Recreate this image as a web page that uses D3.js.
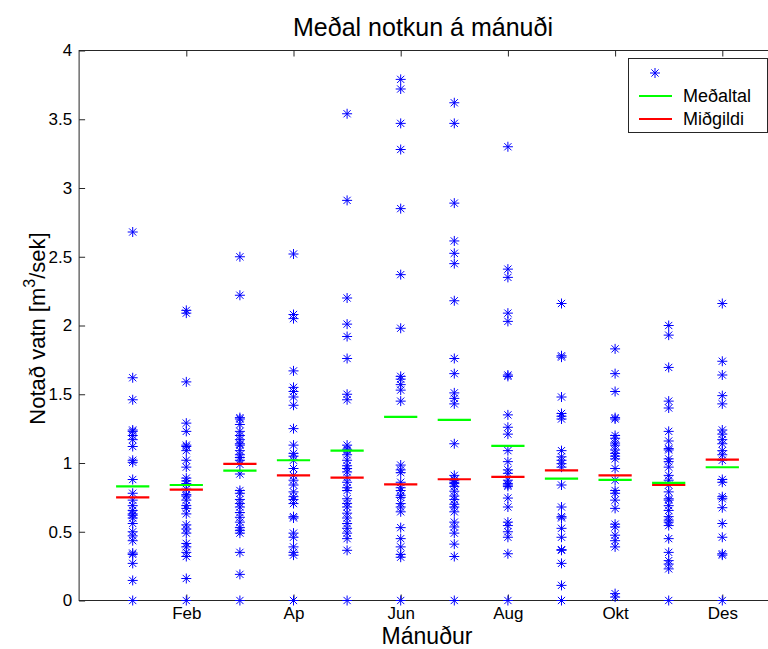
<!DOCTYPE html>
<html>
<head>
<meta charset="utf-8">
<script src="https://cdn.jsdelivr.net/npm/d3@7"></script>
<style>
  html, body { margin: 0; padding: 0; background: #fff; }
  svg { display: block; font-family: "Liberation Sans", Arial, Helvetica, sans-serif; }
</style>
</head>
<body>
<svg id="chart" width="768" height="649"></svg>
<script>
// ---------- DATA ----------
const monthNums = [1,2,3,4,5,6,7,8,9,10,11,12];
const tickMonths = [2,4,6,8,10,12];
const tickLabels = ["Feb","Ap","Jun","Aug","Okt","Des"];
const yTicks = [0,0.5,1,1.5,2,2.5,3,3.5,4];

const vJan = [2.68,1.62,1.46,1.24,1.23,1.20,1.17,1.12,1.02,1.005,0.88,0.78,0.73,0.69,0.655,0.63,0.62,0.60,0.56,0.50,0.47,0.435,0.345,0.335,0.27,0.146,0];
const vFeb = [2.11,2.09,1.59,1.29,1.23,1.13,1.12,1.09,1.02,0.97,0.89,0.87,0.85,0.81,0.77,0.76,0.73,0.69,0.67,0.63,0.55,0.52,0.49,0.415,0.39,0.35,0.32,0.16,0];
const vMar = [2.50,2.22,1.33,1.32,1.28,1.23,1.20,1.17,1.14,1.13,1.09,1.06,1.04,1.02,0.99,0.92,0.80,0.78,0.735,0.705,0.68,0.64,0.605,0.57,0.53,0.51,0.49,0.35,0.19,0];
const vApr = [2.52,2.08,2.05,1.67,1.55,1.52,1.48,1.42,1.25,1.13,1.07,1.05,1.02,0.96,0.91,0.875,0.84,0.79,0.755,0.735,0.705,0.61,0.60,0.49,0.46,0.39,0.35,0.33,0];
const vMay = [3.54,2.91,2.20,2.01,1.92,1.76,1.50,1.46,1.13,1.10,1.09,1.06,1.02,0.98,0.96,0.935,0.895,0.86,0.82,0.80,0.74,0.705,0.68,0.635,0.60,0.56,0.525,0.49,0.45,0.365,0];
const vJun = [3.79,3.72,3.47,3.28,2.85,2.37,1.98,1.63,1.61,1.57,1.53,1.45,0.985,0.95,0.93,0.86,0.82,0.80,0.765,0.75,0.705,0.68,0.645,0.53,0.45,0.39,0.335,0.315,0];
const vJul = [3.62,3.47,2.89,2.615,2.525,2.45,2.18,1.76,1.65,1.51,1.47,1.43,1.14,0.91,0.88,0.875,0.86,0.85,0.83,0.795,0.76,0.735,0.70,0.68,0.645,0.57,0.535,0.49,0.41,0.32,0];
const vAug = [3.30,2.41,2.35,2.09,2.03,1.64,1.63,1.35,1.26,1.21,1.09,1.01,0.95,0.925,0.875,0.85,0.84,0.83,0.745,0.68,0.57,0.545,0.50,0.46,0.34,0];
const vSep = [2.16,1.78,1.77,1.48,1.36,1.34,1.32,1.09,1.045,1.02,0.995,0.97,0.84,0.68,0.61,0.60,0.525,0.46,0.37,0.365,0.27,0.11,0];
const vOkt = [1.83,1.65,1.52,1.33,1.32,1.20,1.18,1.145,1.13,1.095,1.07,1.05,1.03,0.96,0.875,0.80,0.78,0.73,0.67,0.555,0.535,0.475,0.435,0.39,0.05,0.025];
const vNov = [2.0,1.93,1.695,1.45,1.40,1.23,1.16,1.105,1.095,1.03,1.01,0.97,0.91,0.875,0.84,0.79,0.74,0.73,0.69,0.655,0.61,0.585,0.57,0.545,0.45,0.35,0.29,0.265,0.23,0];
const vDes = [2.16,1.74,1.64,1.49,1.43,1.24,1.21,1.17,1.14,1.09,1.06,1.02,0.88,0.86,0.755,0.74,0.675,0.56,0.46,0.34,0.33,0];
const monthValues = [vJan,vFeb,vMar,vApr,vMay,vJun,vJul,vAug,vSep,vOkt,vNov,vDes];

const means   = [0.83,0.84,0.945,1.02,1.09,1.336,1.314,1.124,0.887,0.877,0.855,0.969];
const medians = [0.75,0.806,0.993,0.91,0.894,0.845,0.882,0.899,0.947,0.91,0.84,1.025];

const titleText = "Meðal notkun á mánuði";
const xLabelText = "Mánuður";
const legendLabels = ["", "Meðaltal", "Miðgildi"];

// ---------- LAYOUT ----------
const svg = d3.select("#chart");
const pLeft = 79.1, pRight = 775.9, pTop = 50.5, pBottom = 600.5;
const x = d3.scaleLinear().domain([0, 13]).range([pLeft, pRight]);
const y = d3.scaleLinear().domain([0, 4]).range([pBottom, pTop]);
const axisColor = "#262626";
const starPath = "M-5,0H5M0,-5V5M-3.6,-3.6L3.6,3.6M-3.6,3.6L3.6,-3.6";

// axes box
svg.append("rect").attr("x", pLeft).attr("y", pTop).attr("width", pRight - pLeft).attr("height", pBottom - pTop)
  .attr("fill", "none").attr("stroke", axisColor).attr("stroke-width", 1);

// axes via d3
const gx = svg.append("g").attr("transform", `translate(0,${pBottom})`)
  .call(d3.axisBottom(x).tickValues(tickMonths).tickFormat((d, i) => tickLabels[i]).tickSizeInner(-6).tickSizeOuter(0).tickPadding(6));
const gxt = svg.append("g").attr("transform", `translate(0,${pTop})`)
  .call(d3.axisTop(x).tickValues(tickMonths).tickFormat("").tickSizeInner(-6).tickSizeOuter(0));
const gy = svg.append("g").attr("transform", `translate(${pLeft},0)`)
  .call(d3.axisLeft(y).tickValues(yTicks).tickFormat(d3.format("")).tickSizeInner(-6).tickSizeOuter(0).tickPadding(7));
const gyr = svg.append("g").attr("transform", `translate(${pRight},0)`)
  .call(d3.axisRight(y).tickValues(yTicks).tickFormat("").tickSizeInner(-6).tickSizeOuter(0));
[gx, gxt, gy, gyr].forEach(g => {
  g.select(".domain").remove();
  g.selectAll(".tick line").attr("stroke", axisColor);
  g.selectAll("text").attr("fill", "#000").style("font-size", "17px").style("font-family", "'Liberation Sans', Arial, sans-serif");
});

// stars
const pts = [];
monthValues.forEach((arr, i) => arr.forEach(v => pts.push({m: monthNums[i], v})));
svg.append("g").selectAll("path").data(pts).join("path")
  .attr("transform", d => `translate(${x(d.m)},${y(d.v)})`)
  .attr("d", starPath).attr("fill", "none").attr("stroke", "#0000ff").attr("stroke-width", 1);

// mean / median lines
const hw = 0.31;
svg.append("g").selectAll("line").data(monthNums).join("line")
  .attr("x1", (d) => x(d - hw)).attr("x2", (d) => x(d + hw))
  .attr("y1", (d, i) => y(means[i])).attr("y2", (d, i) => y(means[i]))
  .attr("stroke", "#00ff00").attr("stroke-width", 2.2);
svg.append("g").selectAll("line").data(monthNums).join("line")
  .attr("x1", (d) => x(d - hw)).attr("x2", (d) => x(d + hw))
  .attr("y1", (d, i) => y(medians[i])).attr("y2", (d, i) => y(medians[i]))
  .attr("stroke", "#ff0000").attr("stroke-width", 2.2);

// title and labels
svg.append("text").attr("x", 423).attr("y", 36).attr("text-anchor", "middle")
  .style("font-size", "25px").text(titleText);
svg.append("text").attr("x", 427).attr("y", 643.5).attr("text-anchor", "middle")
  .style("font-size", "23px").text(xLabelText);
const yl = svg.append("text").attr("transform", `translate(45,${(pTop + pBottom) / 2 + 3}) rotate(-90)`)
  .attr("text-anchor", "middle").style("font-size", "22px");
yl.append("tspan").text("Notað vatn [m");
yl.append("tspan").attr("dy", -10).style("font-size", "16px").text("3");
yl.append("tspan").attr("dy", 10).text("/sek]");

// legend
const lg = svg.append("g");
lg.append("rect").attr("x", 628.5).attr("y", 58.5).attr("width", 139).attr("height", 74)
  .attr("fill", "#fff").attr("stroke", axisColor).attr("stroke-width", 1);
lg.append("path").attr("transform", "translate(655,73)").attr("d", starPath)
  .attr("fill", "none").attr("stroke", "#0000ff").attr("stroke-width", 1);
lg.append("line").attr("x1", 639).attr("x2", 672).attr("y1", 96).attr("y2", 96)
  .attr("stroke", "#00ff00").attr("stroke-width", 2.2);
lg.append("line").attr("x1", 639).attr("x2", 672).attr("y1", 119).attr("y2", 119)
  .attr("stroke", "#ff0000").attr("stroke-width", 2.2);
lg.append("text").attr("x", 683).attr("y", 96).attr("dy", "0.36em").style("font-size", "18px").text(legendLabels[1]);
lg.append("text").attr("x", 683).attr("y", 119).attr("dy", "0.36em").style("font-size", "18px").text(legendLabels[2]);
</script>
</body>
</html>
